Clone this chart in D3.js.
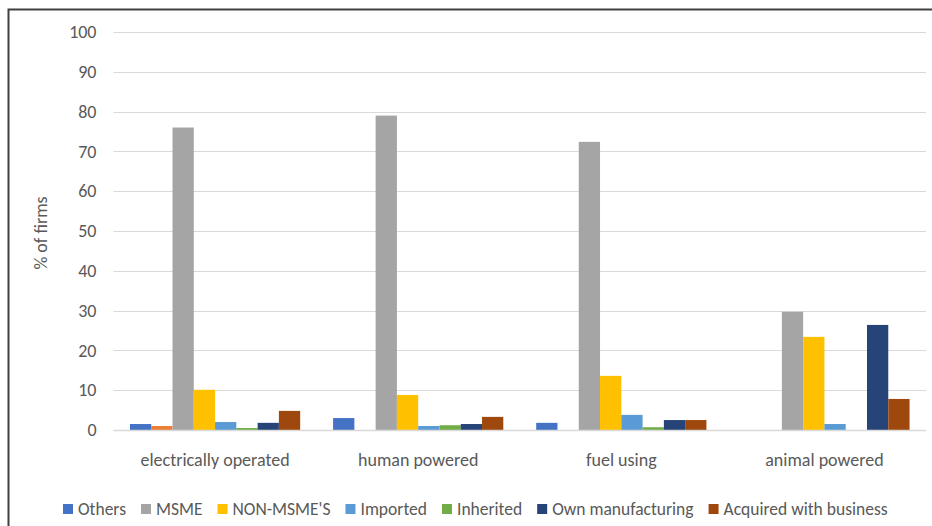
<!DOCTYPE html>
<html>
<head>
<meta charset="utf-8">
<script src="https://cdn.jsdelivr.net/npm/d3@7"></script>
<style>
  body { margin: 0; background: #fff; }
  text { font-family: Carlito, Calibri, Lato, sans-serif; fill: #595959; }
</style>
</head>
<body>
<div id="chart"></div>
<script>
// chart values
var categories = ["electrically operated", "human powered", "fuel using", "animal powered"];
var seriesNames = ["Others", "", "MSME", "NON-MSME'S", "Imported", "Inherited", "Own manufacturing", "Acquired with business"];
var seriesColors = ["#4472C4", "#ED7D31", "#A5A5A5", "#FFC000", "#5B9BD5", "#70AD47", "#264478", "#9E480E"];
var others     = [1.5, 3.0, 1.8, 0];
var unnamed    = [1.0, 0, 0, 0];
var msme       = [76, 79, 72.4, 29.7];
var nonMsme    = [10.1, 8.8, 13.6, 23.4];
var imported   = [2.0, 1.0, 3.8, 1.5];
var inherited  = [0.5, 1.2, 0.7, 0];
var ownManuf   = [1.8, 1.5, 2.5, 26.4];
var acquired   = [4.8, 3.3, 2.5, 7.8];
var yTicks = [0, 10, 20, 30, 40, 50, 60, 70, 80, 90, 100];

var seriesValues = [others, unnamed, msme, nonMsme, imported, inherited, ownManuf, acquired];

var svgWidth = 932;
var svgHeight = 526;

var margin = { top: 32, right: 6, bottom: 96, left: 113.5 };
var width = svgWidth - margin.left - margin.right;
var height = svgHeight - margin.top - margin.bottom;

var svg = d3.select("#chart")
  .append("svg")
  .attr("width", svgWidth)
  .attr("height", svgHeight);

// outer frame (only top and left edges show in the picture)
svg.append("path")
  .attr("d", "M8.5,526 V9.5 H932")
  .attr("fill", "none")
  .attr("stroke", "#404040")
  .attr("stroke-width", 2);

var chartGroup = svg.append("g")
  .attr("transform", `translate(${margin.left}, ${margin.top})`);

var x0 = d3.scaleBand()
  .domain(categories)
  .range([0, width])
  .paddingInner(0.162)
  .paddingOuter(0.081);

var x1 = d3.scaleBand()
  .domain(d3.range(seriesNames.length))
  .range([0, x0.bandwidth()]);

var y = d3.scaleLinear()
  .domain([0, 100])
  .range([height, 0]);

// gridlines
chartGroup.append("g")
  .selectAll("line")
  .data(yTicks)
  .enter()
  .append("line")
  .attr("x1", 0)
  .attr("x2", width)
  .attr("y1", d => Math.round(y(d)) + 0.5)
  .attr("y2", d => Math.round(y(d)) + 0.5)
  .attr("stroke", "#d9d9d9")
  .attr("stroke-width", 1);

// y axis labels
var leftAxis = d3.axisLeft(y).tickValues(yTicks).tickSize(0).tickPadding(17);
var yAxis = chartGroup.append("g").call(leftAxis);
yAxis.select(".domain").remove();
yAxis.selectAll("text")
  .style("font-size", "18px")
  .attr("fill", "#595959");

// bars
var groups = chartGroup.selectAll(".cat")
  .data(categories)
  .enter()
  .append("g")
  .attr("class", "cat")
  .attr("transform", d => `translate(${x0(d)}, 0)`);

groups.selectAll("rect")
  .data((d, i) => seriesValues.map((vals, s) => ({ s: s, v: vals[i] })))
  .enter()
  .append("rect")
  .attr("x", d => x1(d.s))
  .attr("width", x1.bandwidth())
  .attr("y", d => y(d.v))
  .attr("height", d => height - y(d.v))
  .attr("fill", d => seriesColors[d.s]);

// baseline
chartGroup.append("line")
  .attr("x1", 0)
  .attr("x2", width)
  .attr("y1", y(0) + 0.5)
  .attr("y2", y(0) + 0.5)
  .attr("stroke", "#d9d9d9")
  .attr("stroke-width", 1.5);

// x axis labels
var bottomAxis = d3.axisBottom(x0).tickSize(0).tickPadding(23);
var xAxis = chartGroup.append("g")
  .attr("transform", `translate(0, ${height})`)
  .call(bottomAxis);
xAxis.select(".domain").remove();
xAxis.selectAll("text")
  .style("font-size", "18px")
  .attr("fill", "#595959");

// y axis title
svg.append("text")
  .attr("transform", "translate(47, 233) rotate(-90)")
  .attr("text-anchor", "middle")
  .style("font-size", "18px")
  .text("% of firms");

// legend
var legend = svg.append("g").attr("transform", "translate(63, 0)");
var lx = 0;
seriesNames.forEach(function(name, i) {
  if (name === "") return;
  var item = legend.append("g").attr("transform", `translate(${lx}, 0)`);
  item.append("rect")
    .attr("x", 0)
    .attr("y", 504)
    .attr("width", 10)
    .attr("height", 10)
    .attr("fill", seriesColors[i]);
  var t = item.append("text")
    .attr("x", 15)
    .attr("y", 515)
    .style("font-size", "17.5px")
    .text(name);
  lx += 15 + t.node().getComputedTextLength() + 15;
});
</script>
</body>
</html>
